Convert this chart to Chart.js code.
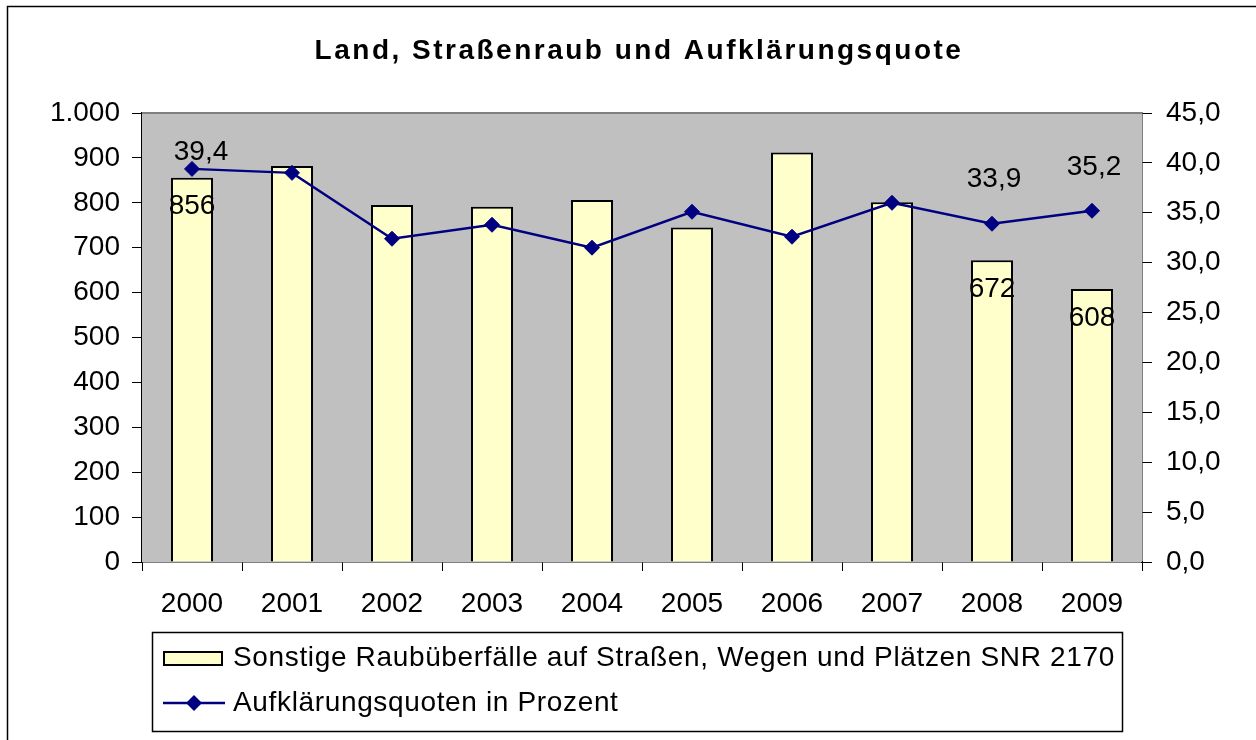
<!DOCTYPE html>
<html>
<head>
<meta charset="utf-8">
<script src="https://cdn.jsdelivr.net/npm/chart.js@4.4.1/dist/chart.umd.min.js"></script>
<style>
    body { margin: 0; background: #ffffff; }
    canvas { display: block; }
</style>
</head>
<body>
<canvas id="raubChart" width="1256" height="740"></canvas>
<script>
var years = ['2000', '2001', '2002', '2003', '2004', '2005', '2006', '2007', '2008', '2009'];
var raubFaelle = [856, 882, 795, 791, 806, 745, 912, 801, 672, 608];
var aufklaerung = [39.4, 39.0, 32.4, 33.8, 31.5, 35.1, 32.6, 36.0, 33.9, 35.2];
var barLabelIdx = [0, 8, 9];
var lineLabelIdx = [0, 8, 9];

var barName = 'Sonstige Raubüberfälle auf Straßen, Wegen und Plätzen SNR 2170';
var lineName = 'Aufklärungsquoten in Prozent';
var titleText = 'Land, Straßenraub und Aufklärungsquote';

var fontFam = '"Liberation Sans", Arial, sans-serif';
var barColor = '#FFFFCC';
var lineColor = '#000080';

// where the line labels sit relative to their point (px)
var lineLabelShift = { 0: [9, -17], 8: [2, -44], 9: [2, -44] };

function germanNum(v) {
    var s = String(v);
    if (v >= 1000) {
        s = s.slice(0, s.length - 3) + '.' + s.slice(s.length - 3);
    }
    return s;
}

//Background, frame, title, labels and legend
var decorPlugin = {
    id: 'decor',
    beforeDatasetsDraw: function(chart) {
        var ctx = chart.ctx;
        var a = chart.chartArea;
        ctx.save();
        ctx.fillStyle = '#C0C0C0';
        ctx.fillRect(a.left, a.top, a.right - a.left, a.bottom - a.top);
        ctx.strokeStyle = '#808080';
        ctx.lineWidth = 2;
        ctx.beginPath();
        ctx.moveTo(a.left, a.top);
        ctx.lineTo(a.right, a.top);
        ctx.stroke();
        ctx.restore();
    },
    afterDraw: function(chart) {
        var ctx = chart.ctx;
        ctx.save();

        // outer frame
        ctx.strokeStyle = '#000000';
        ctx.lineWidth = 1.5;
        ctx.beginPath();
        ctx.moveTo(7.5, 740);
        ctx.lineTo(7.5, 6.5);
        ctx.lineTo(1256, 6.5);
        ctx.stroke();

        // title
        ctx.fillStyle = '#000000';
        ctx.font = 'bold 28px ' + fontFam;
        ctx.letterSpacing = '2.5px';
        ctx.textAlign = 'center';
        ctx.textBaseline = 'middle';
        ctx.fillText(titleText, 639, 51);
        ctx.letterSpacing = '0px';

        // data labels
        ctx.font = '28px ' + fontFam;
        var barMeta = chart.getDatasetMeta(0);
        barLabelIdx.forEach(function(i) {
            var el = barMeta.data[i];
            ctx.fillText(germanNum(raubFaelle[i]), el.x, el.y + 29);
        });
        var lineMeta = chart.getDatasetMeta(1);
        lineLabelIdx.forEach(function(i) {
            var el = lineMeta.data[i];
            var sh = lineLabelShift[i];
            ctx.fillText(aufklaerung[i].toFixed(1).replace('.', ','), el.x + sh[0], el.y + sh[1]);
        });

        // legend box
        ctx.strokeStyle = '#000000';
        ctx.lineWidth = 1.5;
        ctx.strokeRect(152.5, 632.5, 970, 99);

        ctx.fillStyle = barColor;
        ctx.fillRect(164, 652, 58, 13);
        ctx.lineWidth = 2;
        ctx.strokeRect(164, 652, 58, 13);

        ctx.strokeStyle = lineColor;
        ctx.lineWidth = 2.5;
        ctx.beginPath();
        ctx.moveTo(163, 703);
        ctx.lineTo(225, 703);
        ctx.stroke();
        ctx.fillStyle = lineColor;
        ctx.beginPath();
        ctx.moveTo(194, 695);
        ctx.lineTo(202, 703);
        ctx.lineTo(194, 711);
        ctx.lineTo(186, 703);
        ctx.closePath();
        ctx.fill();

        ctx.fillStyle = '#000000';
        ctx.font = '28px ' + fontFam;
        ctx.letterSpacing = '0.65px';
        ctx.textAlign = 'left';
        ctx.fillText(barName, 233, 658);
        ctx.fillText(lineName, 233, 703);
        ctx.letterSpacing = '0px';

        ctx.restore();
    }
};

var ctx = document.getElementById('raubChart').getContext('2d');

new Chart(ctx, {
    type: 'bar',
    data: {
        labels: years,
        datasets: [
            {
                type: 'bar',
                label: barName,
                data: raubFaelle,
                backgroundColor: barColor,
                borderColor: '#000000',
                borderWidth: 2,
                barPercentage: 0.42,
                categoryPercentage: 1.0,
                yAxisID: 'y',
                order: 2
            },
            {
                type: 'line',
                label: lineName,
                data: aufklaerung,
                borderColor: lineColor,
                backgroundColor: lineColor,
                borderWidth: 2.5,
                pointStyle: 'rectRot',
                pointRadius: 7.5,
                pointBorderWidth: 1,
                tension: 0,
                yAxisID: 'y1',
                order: 1
            }
        ]
    },
    options: {
        responsive: false,
        animation: false,
        layout: {
            padding: { top: 113, left: 0, right: 0, bottom: 118 }
        },
        plugins: {
            legend: { display: false },
            title: { display: false },
            tooltip: { enabled: false }
        },
        scales: {
            x: {
                afterFit: function(scale) { scale.height = 60; },
                grid: {
                    display: true,
                    offset: true,
                    drawOnChartArea: false,
                    drawTicks: true,
                    tickLength: 9,
                    color: '#000000'
                },
                border: { display: true, color: '#000000', width: 1.5 },
                ticks: {
                    color: '#000000',
                    font: { family: fontFam, size: 28 },
                    padding: 16,
                    maxRotation: 0
                }
            },
            y: {
                position: 'left',
                min: 0,
                max: 1000,
                afterFit: function(scale) { scale.width = 142; },
                grid: {
                    drawOnChartArea: false,
                    drawTicks: true,
                    tickLength: 10,
                    color: '#000000'
                },
                border: { display: true, color: '#000000', width: 1.5 },
                ticks: {
                    stepSize: 100,
                    color: '#000000',
                    padding: 12,
                    font: { family: fontFam, size: 28 },
                    callback: function(v) { return germanNum(v); }
                }
            },
            y1: {
                position: 'right',
                min: 0,
                max: 45,
                afterFit: function(scale) { scale.width = 114; },
                grid: {
                    drawOnChartArea: false,
                    drawTicks: true,
                    tickLength: 10,
                    color: '#000000'
                },
                border: { display: true, color: '#000000', width: 1.5 },
                ticks: {
                    stepSize: 5,
                    color: '#000000',
                    padding: 14,
                    font: { family: fontFam, size: 28 },
                    callback: function(v) { return v.toFixed(1).replace('.', ','); }
                }
            }
        }
    },
    plugins: [decorPlugin]
});
</script>
</body>
</html>
